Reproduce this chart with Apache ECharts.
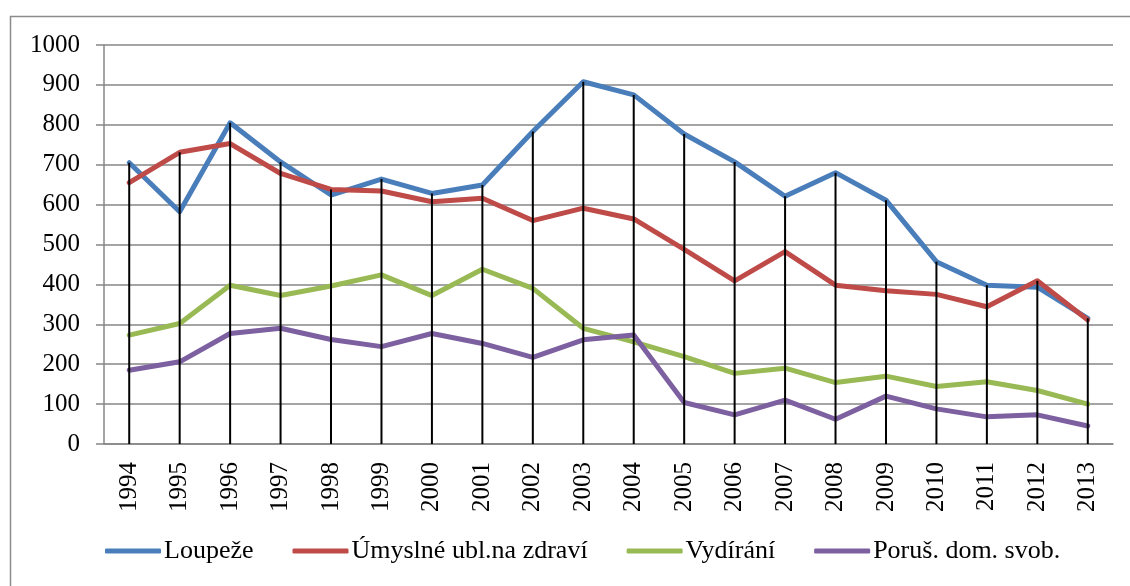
<!DOCTYPE html>
<html>
<head>
<meta charset="utf-8">
<style>
  html, body { margin: 0; padding: 0; background: #fff; }
  #chart { width: 1130px; height: 586px; }
</style>
<script src="https://cdn.jsdelivr.net/npm/echarts@6/dist/echarts.min.js"></script>
</head>
<body>
<div id="chart"></div>
<script>
// data
const years = ['1994', '1995', '1996', '1997', '1998', '1999', '2000', '2001', '2002', '2003',
  '2004', '2005', '2006', '2007', '2008', '2009', '2010', '2011', '2012', '2013']
const loupeze = [705, 582, 805, 707, 624, 664, 628, 649, 783, 908, 875, 777, 707, 621, 680, 611, 457, 398, 393, 315]
const ublizeni = [655, 731, 753, 678, 638, 634, 607, 616, 560, 591, 564, 488, 409, 482, 398, 384, 375, 344, 409, 311]
const vydirani = [273, 302, 398, 372, 396, 424, 372, 438, 390, 290, 256, 219, 177, 190, 154, 170, 144, 156, 134, 100]
const poruseni = [185, 206, 277, 290, 262, 244, 277, 252, 217, 261, 273, 104, 73, 110, 62, 120, 88, 68, 73, 45]
const names = ['Loupeže', 'Úmyslné ubl.na zdraví', 'Vydírání', 'Poruš. dom. svob.']
const colors = ['#4A7EBB', '#BE4B48', '#98B954', '#7D60A0']

// drop lines go from the highest point down to the axis
const dropTops = years.map((_, i) => Math.max(loupeze[i], ublizeni[i], vydirani[i], poruseni[i]))

const font = '"Liberation Serif", "Times New Roman", serif'
const gray = '#868686'

const chart = echarts.init(document.getElementById('chart'))

const lineSeries = (name, data, color) => ({
  name,
  type: 'line',
  data,
  showSymbol: false,
  symbol: 'none',
  color,
  lineStyle: { width: 5, color, cap: 'round', join: 'round' },
  z: 2
})

chart.setOption({
  animation: false,
  backgroundColor: '#fff',
  graphic: [{
    type: 'rect',
    shape: { x: 10.5, y: 16.5, width: 1200, height: 700 },
    style: { fill: 'none', stroke: '#8c8c8c', lineWidth: 1.5 },
    silent: true
  }],
  grid: { left: 104, right: 17, top: 45, bottom: 142 },
  legend: {
    data: names.map((n, i) => ({ name: n, icon: 'roundRect', itemStyle: { color: colors[i] } })),
    left: 100,
    top: 533,
    itemWidth: 56,
    itemHeight: 5,
    itemGap: 39,
    textStyle: { fontFamily: font, fontSize: 26, color: '#000', padding: [0, 0, 0, -2] }
  },
  xAxis: {
    type: 'category',
    data: years,
    boundaryGap: true,
    axisLine: { lineStyle: { color: gray, width: 1.5 } },
    axisTick: { show: false },
    axisLabel: { rotate: 90, margin: 18, color: '#000', fontFamily: font, fontSize: 25, interval: 0 }
  },
  yAxis: {
    type: 'value',
    min: 0,
    max: 1000,
    interval: 100,
    axisLine: { show: true, lineStyle: { color: gray, width: 1.5 } },
    axisTick: { show: true, length: 8, lineStyle: { color: gray, width: 1.5 } },
    splitLine: { lineStyle: { color: gray, width: 1.5 } },
    axisLabel: { margin: 24, color: '#000', fontFamily: font, fontSize: 25, formatter: v => String(v) }
  },
  series: [
    lineSeries(names[0], loupeze, colors[0]),
    lineSeries(names[1], ublizeni, colors[1]),
    lineSeries(names[2], vydirani, colors[2]),
    lineSeries(names[3], poruseni, colors[3]),
    {
      name: 'drop',
      type: 'bar',
      data: dropTops,
      barWidth: 2,
      itemStyle: { color: '#000' },
      z: 3,
      silent: true
    }
  ]
})
</script>
</body>
</html>
